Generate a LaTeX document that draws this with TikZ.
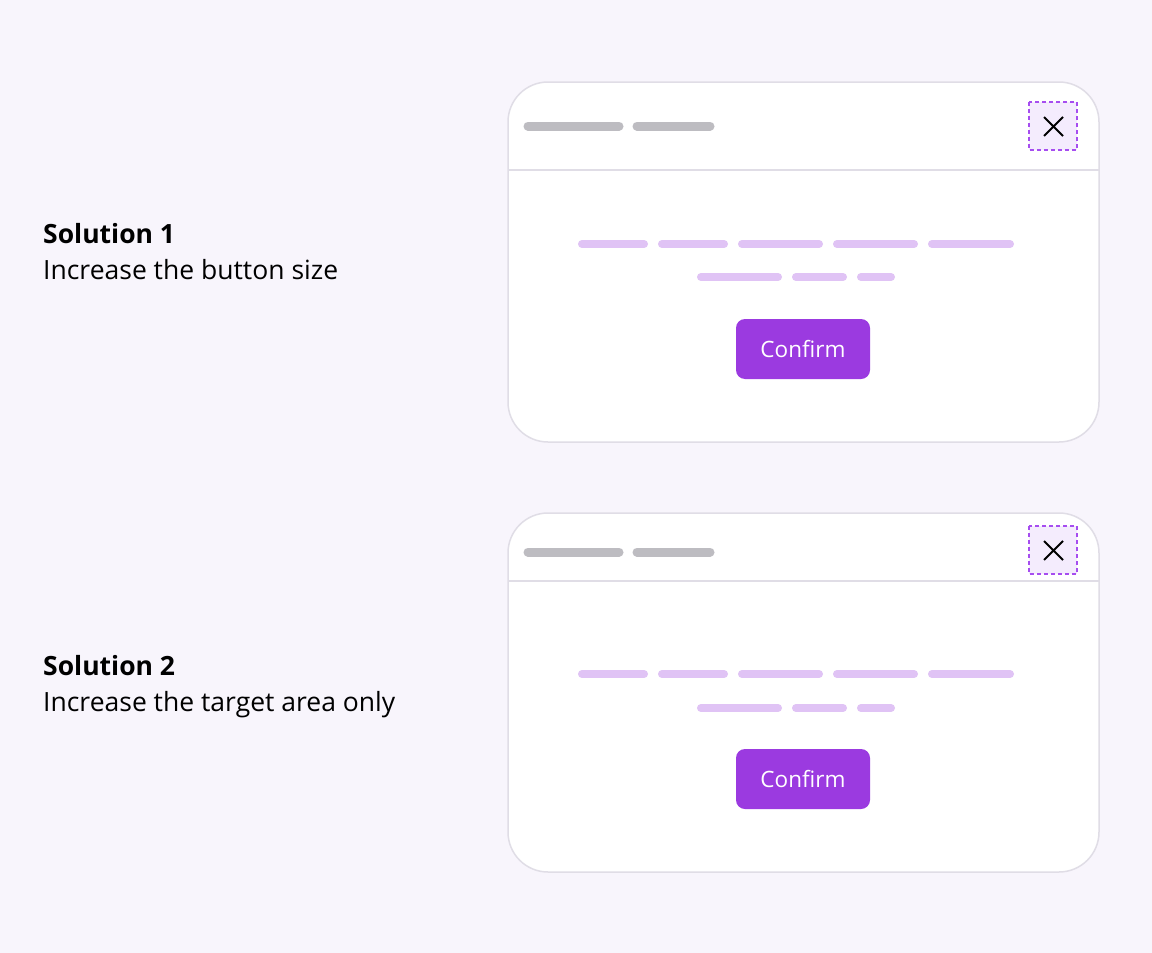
\documentclass[tikz,border=0pt]{standalone}
\usepackage{fontspec}
\setmainfont{Open Sans}[Ligatures=NoCommon]
\definecolor{pagebg}{HTML}{F8F5FC}
\definecolor{frame}{HTML}{E0DDE6}
\definecolor{greybar}{HTML}{BDBCC1}
\definecolor{lilac}{HTML}{E0C3F5}
\definecolor{violet}{HTML}{9B3AE0}
\definecolor{target}{HTML}{A64DF0}
\definecolor{targetfill}{HTML}{F4ECFD}
\tikzset{
  dialog/.style={draw=frame, fill=white, line width=1.5pt, rounded corners=40pt},
  titlebar/.style={greybar, line width=9pt, line cap=round},
  textbar/.style={lilac, line width=8pt, line cap=round},
  hitbox/.style={draw=target, fill=targetfill, line width=1.6pt, dash pattern=on 4pt off 3pt},
  confirm/.style={fill=violet, rounded corners=9pt, text=white, font=\fontsize{22.5}{26}\selectfont,
    minimum width=134pt, minimum height=60pt, inner sep=0pt},
  heading/.style={anchor=base west, inner sep=0pt, font=\fontsize{26.5}{30}\selectfont\bfseries},
  caption/.style={anchor=base west, inner sep=0pt, font=\fontsize{26.5}{30}\selectfont}
}
\begin{document}
\begin{tikzpicture}[x=1pt, y=-1pt]
\fill[pagebg] (0,0) rectangle (1152,953);
\useasboundingbox (0,0) rectangle (1152,953);
% first solution
\node[heading] (head1) at (43,243) {Solution 1};
\node[caption] (text1) at (43,279) {Increase the button size};
\draw[dialog] (508,82) rectangle (1099,442);
\draw[frame, line width=1.5pt] (508,170) -- (1099,170);
\draw[titlebar] (528,126) -- (619,126);
\draw[titlebar] (637,126) -- (710,126);
\draw[hitbox] (1029,102) rectangle (1077,150);
\draw[line width=1.8pt] (1044,117) -- (1063,136) (1063,117) -- (1044,136);
\foreach \a/\b in {578/648, 658/728, 738/823, 833/918, 928/1014}
  \draw[textbar] (\a+4,244) -- (\b-4,244);
\foreach \a/\b in {697/782, 792/847, 857/895}
  \draw[textbar] (\a+4,277) -- (\b-4,277);
\node[confirm] (btn1) at (803,349) {Confirm};
% second solution
\node[heading] (head2) at (43,675) {Solution 2};
\node[caption] (text2) at (43,711) {Increase the target area only};
\draw[dialog] (508,513) rectangle (1099,872);
\draw[frame, line width=1.5pt] (508,581) -- (1099,581);
\draw[titlebar] (528,552) -- (619,552);
\draw[titlebar] (637,552) -- (710,552);
\draw[hitbox] (1029,526) rectangle (1077,574);
\draw[line width=1.8pt] (1044,541) -- (1063,560) (1063,541) -- (1044,560);
\foreach \a/\b in {578/648, 658/728, 738/823, 833/918, 928/1014}
  \draw[textbar] (\a+4,674) -- (\b-4,674);
\foreach \a/\b in {697/782, 792/847, 857/895}
  \draw[textbar] (\a+4,708) -- (\b-4,708);
\node[confirm] (btn2) at (803,779) {Confirm};
\end{tikzpicture}
\end{document}
